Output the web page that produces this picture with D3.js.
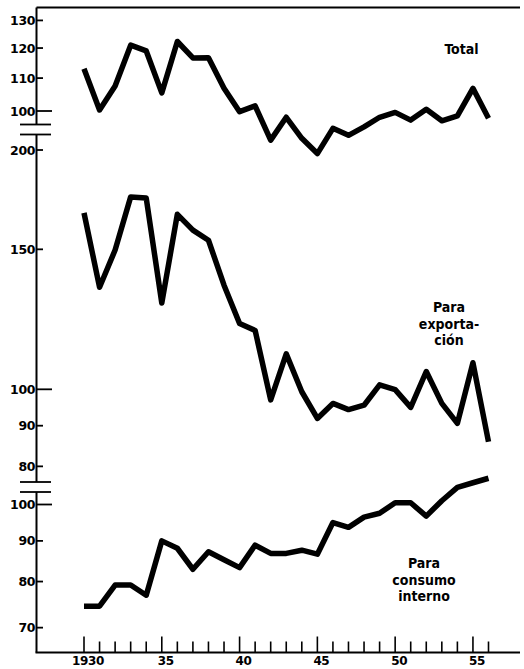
<!DOCTYPE html>
<meta charset="UTF-8">
<script src="https://d3js.org/d3.v7.min.js"></script>
<style>
  body { margin: 0; background: #fff; }
  text { font-family: "DejaVu Sans", sans-serif; font-weight: bold; fill: #000; }
</style>
<div id="chart"></div>
<script>

// data (indices, semi-log chart)
var years = d3.range(1930, 1957);
var total = [113.0, 100.3, 107.5, 121.0, 119.0, 105.4, 122.3, 116.6, 116.7, 106.8,
             99.8, 101.5, 91.9, 98.2, 92.4, 88.4, 95.1, 93.2, 95.5, 98.2,
             99.6, 97.4, 100.5, 97.2, 98.6, 106.8, 97.9];
var exportacion = [166.7, 134.4, 149.7, 174.6, 174.0, 128.4, 166.0, 158.6, 154.0, 135.2,
                   121.0, 118.6, 97.0, 110.8, 99.3, 91.9, 96.0, 94.3, 95.5, 101.3,
                   99.9, 94.9, 105.3, 96.0, 90.6, 108.0, 85.9];
var consumo = [74.5, 74.5, 79.2, 79.2, 76.9, 90.0, 88.1, 82.9, 87.2, 85.2,
               83.3, 88.9, 86.8, 86.8, 87.6, 86.6, 94.9, 93.6, 96.4, 97.5,
               100.5, 100.5, 96.7, 101.1, 105.1, 106.5, 107.9];

var totalTicks = [130, 120, 110, 100];
var exportTicks = [200, 150, 100, 90, 80];
var consumoTicks = [100, 90, 80, 70];
var yearTicks = [1930, 1935, 1940, 1945, 1950, 1955];
var yearLabels = ["1930", "35", "40", "45", "50", "55"];

var width = 524, height = 669;
var axisX = 36.5, bottomY = 652.5, topY = 7.5, rightX = 520;
var perDecade = 795;   // same log spacing in all three panels

var svg = d3.select("#chart").append("svg")
    .attr("width", width)
    .attr("height", height);

var x = d3.scaleLinear().domain([1930, 1956]).range([84, 488.5]);

function logScale(lo, hi, yHi) {
  return d3.scaleLog().domain([lo, hi])
    .range([yHi + perDecade * Math.log10(hi / lo), yHi]);
}
var yTotal = logScale(100, 130, 111 - perDecade * Math.log10(1.3));
var yExport = logScale(80, 200, 150);
var yConsumo = logScale(70, 100, 504.5);

var panels = [
  {scale: yTotal, ticks: totalTicks, data: total, y0: topY, y1: 124},
  {scale: yExport, ticks: exportTicks, data: exportacion, y0: 134, y1: 482},
  {scale: yConsumo, ticks: consumoTicks, data: consumo, y0: 492, y1: bottomY}
];

// top frame line
svg.append("line")
    .attr("x1", axisX).attr("x2", rightX)
    .attr("y1", topY).attr("y2", topY)
    .attr("stroke", "#000").attr("stroke-width", 2);

// bottom axis line
svg.append("line")
    .attr("x1", axisX - 1).attr("x2", rightX)
    .attr("y1", bottomY).attr("y2", bottomY)
    .attr("stroke", "#000").attr("stroke-width", 2.2);

panels.forEach(function(p) {
  // axis segment
  svg.append("line")
      .attr("x1", axisX).attr("x2", axisX)
      .attr("y1", p.y0).attr("y2", p.y1)
      .attr("stroke", "#000").attr("stroke-width", 2);

  var g = svg.append("g");
  g.selectAll("line")
    .data(p.ticks)
    .enter().append("line")
      .attr("x1", axisX)
      .attr("x2", function(d) { return d == 100 ? 52 : 43; })
      .attr("y1", function(d) { return p.scale(d); })
      .attr("y2", function(d) { return p.scale(d); })
      .attr("stroke", "#000").attr("stroke-width", 1.8);
  g.selectAll("text")
    .data(p.ticks)
    .enter().append("text")
      .attr("x", axisX - 1.5)
      .attr("y", function(d) { return p.scale(d); })
      .attr("dy", "0.36em")
      .attr("text-anchor", "end")
      .style("font-size", "12.5px")
      .style("letter-spacing", "-0.4px")
      .text(function(d) { return d; });

  // the series line
  svg.append("path")
      .datum(p.data)
      .attr("fill", "none")
      .attr("stroke", "#000")
      .attr("stroke-width", 5.5)
      .attr("stroke-linejoin", "round")
      .attr("d", d3.line()
          .x(function(d, i) { return x(years[i]); })
          .y(function(d) { return p.scale(d); }));
});

// axis break marks
[[124.5, 134.5], [482, 492]].forEach(function(b) {
  b.forEach(function(yy) {
    svg.append("line")
        .attr("x1", 20).attr("x2", 51)
        .attr("y1", yy).attr("y2", yy)
        .attr("stroke", "#000").attr("stroke-width", 1.8);
  });
});

// year ticks
svg.append("g").selectAll("line")
  .data(years)
  .enter().append("line")
    .attr("x1", function(d) { return x(d); })
    .attr("x2", function(d) { return x(d); })
    .attr("y1", bottomY)
    .attr("y2", function(d) { return d % 5 == 0 ? bottomY - 16 : bottomY - 11; })
    .attr("stroke", "#000").attr("stroke-width", 1.6);

svg.append("g").selectAll("text")
  .data(yearTicks)
  .enter().append("text")
    .attr("x", function(d) { return x(d) + 4; })
    .attr("y", 661)
    .attr("dy", "0.36em")
    .attr("text-anchor", "middle")
    .style("font-size", "12px")
    .style("letter-spacing", "-0.4px")
    .text(function(d, i) { return yearLabels[i]; });

// series labels
var labels = [
  {lines: ["Total"], x: 461.5, y: 49},
  {lines: ["Para", "exporta-", "ción"], x: 449, y: 307},
  {lines: ["Para", "consumo", "interno"], x: 424, y: 563}
];
labels.forEach(function(l) {
  var t = svg.append("text")
      .attr("text-anchor", "middle")
      .style("font-family", "'DejaVu Sans Condensed', 'DejaVu Sans', sans-serif")
      .style("font-size", "14px");
  l.lines.forEach(function(s, i) {
    t.append("tspan")
        .attr("x", l.x)
        .attr("y", l.y + i * 16.5)
        .attr("dy", "0.36em")
        .text(s);
  });
});
</script>
